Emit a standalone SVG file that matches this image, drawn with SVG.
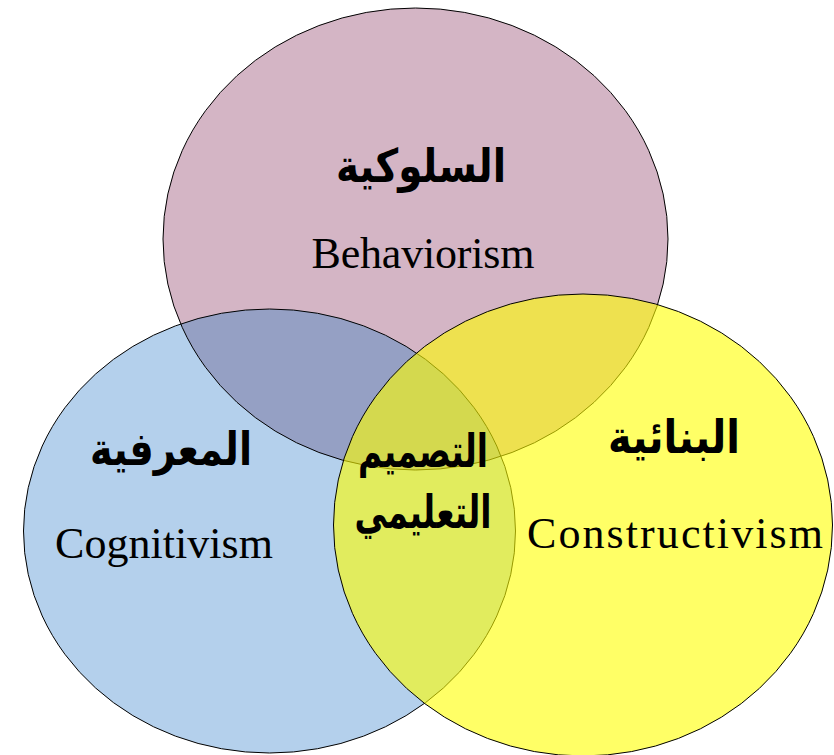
<svg xmlns="http://www.w3.org/2000/svg" width="834" height="755" viewBox="0 0 834 755">
<style>
.ar{font-family:"DejaVu Sans","Noto Sans",sans-serif;font-weight:bold;font-size:46px;fill:#000;text-anchor:middle}
.en{font-family:"Liberation Serif","DejaVu Serif",serif;font-size:44px;fill:#000;text-anchor:middle}
.ol{fill:none;stroke:#000;stroke-width:1}
</style>
<defs>
<clipPath id="clipTop"><ellipse cx="415.5" cy="239" rx="252.5" ry="231"/></clipPath>
</defs>
<rect width="834" height="755" fill="#fff"/>
<g id="behaviorism">
<ellipse cx="415.5" cy="239" rx="252.5" ry="231" fill="#D4B5C5"/>
</g>
<g id="cognitivism">
<ellipse cx="269.5" cy="531" rx="246" ry="222" fill="#B4D0EC"/>
<ellipse cx="269.5" cy="531" rx="246" ry="222" fill="#95A0C4" clip-path="url(#clipTop)"/>
</g>
<g id="outlines">
<ellipse class="ol" cx="415.5" cy="239" rx="252.5" ry="231"/>
<ellipse class="ol" cx="269.5" cy="531" rx="246" ry="222"/>
</g>
<g id="constructivism">
<ellipse cx="583" cy="525" rx="249.5" ry="231" fill="#FFFF00" fill-opacity="0.6" stroke="#000" stroke-width="1"/>
</g>
<g id="labels">
<text class="ar" x="421" y="182" textLength="170" lengthAdjust="spacingAndGlyphs">السلوكية</text>
<text class="en" x="423" y="268" textLength="223" lengthAdjust="spacing">Behaviorism</text>
<text class="ar" x="171" y="465" textLength="162" lengthAdjust="spacingAndGlyphs">المعرفية</text>
<text class="en" x="164" y="558" textLength="218" lengthAdjust="spacing">Cognitivism</text>
<text class="ar" x="674" y="453" textLength="132" lengthAdjust="spacingAndGlyphs">البنائية</text>
<text class="en" x="675" y="548" textLength="296" lengthAdjust="spacing">Constructivism</text>
</g>
<g id="instructional-design">
<text class="ar" x="423" y="467" textLength="130" lengthAdjust="spacingAndGlyphs">التصميم</text>
<text class="ar" x="423" y="528" textLength="137" lengthAdjust="spacingAndGlyphs">التعليمي</text>
</g>
</svg>
